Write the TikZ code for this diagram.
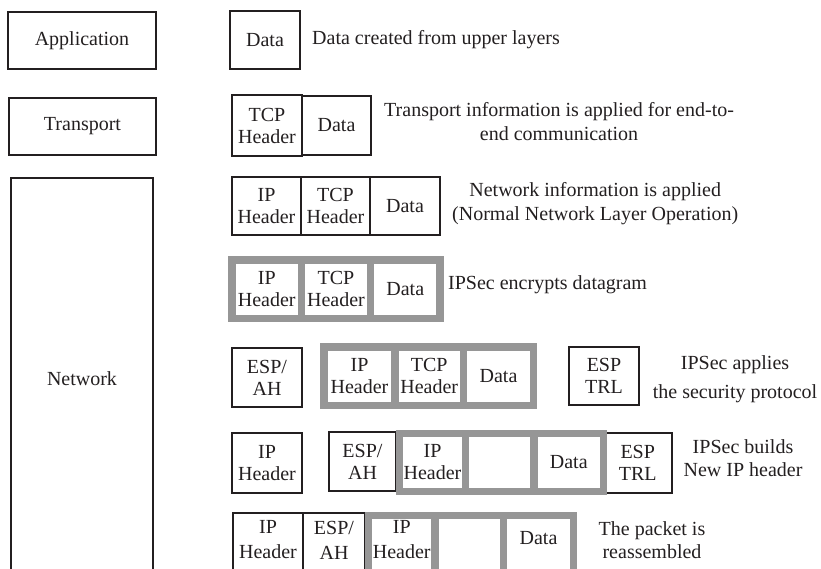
\documentclass[tikz,border=0pt]{standalone}
\usepackage{fontspec}
\setmainfont{Liberation Serif}
\definecolor{cellgray}{RGB}{150,150,150}
\definecolor{ink}{RGB}{35,31,32}
\begin{document}
\begin{tikzpicture}[x=1pt,y=-1pt,
  every node/.style={font=\fontsize{20}{22}\selectfont, inner sep=0pt, align=center, text=ink},
  bx/.style={draw=ink, line width=1.5pt},
  gc/.style={draw=cellgray, line width=7.5pt},
  note/.style={anchor=west}]
\useasboundingbox (0,0) rectangle (821,568);
\clip (0,0) rectangle (821,568);

% left column
\node[bx, minimum width=148, minimum height=57] (app) at (82,40.5) {Application};
\node[bx, minimum width=147, minimum height=57] (trn) at (82.5,126.5) {Transport};
\node[bx, minimum width=142, minimum height=402] (net) at (82,379) {Network};

% row 1
\node[bx, minimum width=70, minimum height=58] (d1) at (265,40) {Data};
\node[note] (t1) at (312,40) {Data created from upper layers};

% row 2
\node[bx, minimum width=70, minimum height=61] (r2tcp) at (267,125.5) {TCP\\Header};
\node[bx, minimum width=69, minimum height=59] (r2d) at (336.5,125.5) {Data};
\node[note, font=\fontsize{20}{24}\selectfont] (t2) at (384,122) {Transport information is applied for end-to-\\end communication};

% row 3
\node[bx, minimum width=69, minimum height=58] (r3ip) at (266.5,206) {IP\\Header};
\node[bx, minimum width=69, minimum height=58] (r3tcp) at (335.5,206) {TCP\\Header};
\node[bx, minimum width=70, minimum height=58] (r3d) at (405,206) {Data};
\node[note, font=\fontsize{20}{24}\selectfont] (t3) at (452,204) {Network information is applied\\(Normal Network Layer Operation)};

% row 4
\node[gc, minimum width=69.5, minimum height=58.5] (r4ip) at (266.75,289.25) {IP\\Header};
\node[gc, minimum width=69, minimum height=58.5] (r4tcp) at (336,289.25) {TCP\\Header};
\node[gc, minimum width=69.5, minimum height=58.5] (r4d) at (405.25,289.25) {Data};
\node[note] (t4) at (448,285) {IPSec encrypts datagram};

% row 5
\node[bx, minimum width=70, minimum height=59] (r5esp) at (267,377.5) {ESP/\\AH};
\node[gc, minimum width=71, minimum height=58.5] (r5ip) at (359.5,376.25) {IP\\Header};
\node[gc, minimum width=68.5, minimum height=58.5] (r5tcp) at (429.25,376.25) {TCP\\Header};
\node[gc, minimum width=70, minimum height=58.5] (r5d) at (498.5,376.25) {Data};
\node[bx, minimum width=70, minimum height=58] (r5trl) at (604,376) {ESP\\TRL};
\node[font=\fontsize{20}{29}\selectfont] (t5) at (735,379) {IPSec applies\\the security protocol};

% row 6
\node[bx, minimum width=70, minimum height=60] (r6ip) at (267,463) {IP\\Header};
\node[bx, minimum width=67, minimum height=59] (r6esp) at (362.5,461.5) {ESP/\\AH};
\node[bx, minimum width=68.5, minimum height=60] (r6trl) at (637.75,463) {ESP\\TRL};
\node[gc, minimum width=66, minimum height=58] (r6ip2) at (432.5,462.5) {IP\\Header};
\node[gc, minimum width=68.5, minimum height=58] (r6e) at (499.75,462.5) {};
\node[gc, minimum width=69.5, minimum height=58] (r6d) at (568.75,462.5) {Data};
\node[font=\fontsize{20}{23}\selectfont] (t6) at (743,458) {IPSec builds\\New IP header};

% row 7
\node[bx, anchor=north, minimum width=70, minimum height=80] (r7ipbox) at (268,512) {};
\node[bx, anchor=north, minimum width=62, minimum height=80] (r7espbox) at (334,512) {};
\node[gc, anchor=north, minimum width=66.5, minimum height=80] (r7ip2box) at (401.75,511.5) {};
\node[gc, anchor=north, minimum width=68.5, minimum height=80] (r7e) at (469.25,511.5) {};
\node[gc, anchor=north, minimum width=70, minimum height=80] (r7dbox) at (538.5,511.5) {};
\node[font=\fontsize{20}{25}\selectfont] (r7ip) at (268,540) {IP\\Header};
\node[font=\fontsize{20}{25}\selectfont] (r7esp) at (334,540) {ESP/\\AH};
\node[font=\fontsize{20}{25}\selectfont] (r7ip2) at (401.75,540) {IP\\Header};
\node (r7d) at (538.5,538) {Data};
\node[font=\fontsize{20}{23}\selectfont] (t7) at (652,540) {The packet is\\reassembled};
\end{tikzpicture}
\end{document}
